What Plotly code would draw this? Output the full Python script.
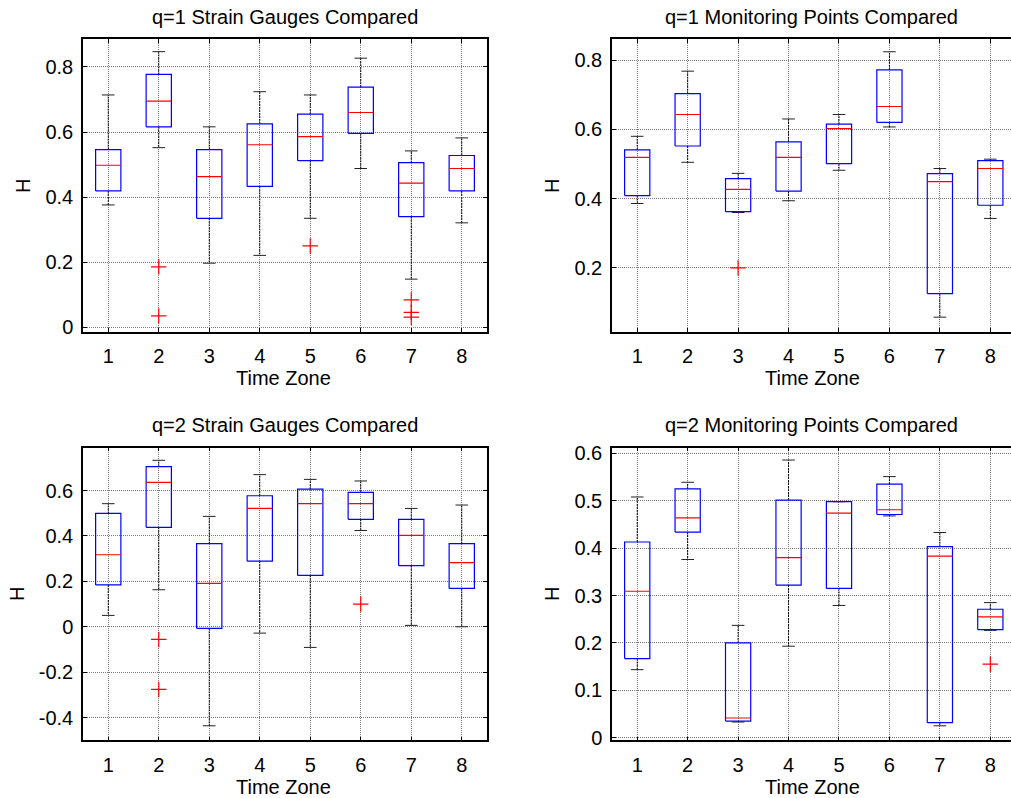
import plotly.graph_objects as go

W, H = 1011, 798

categories = [1, 2, 3, 4, 5, 6, 7, 8]
x_tick_text = ["1", "2", "3", "4", "5", "6", "7", "8"]

# q=1 Strain Gauges
sg1_lw = [0.376, 0.552, 0.197, 0.221, 0.335, 0.488, 0.148, 0.321]
sg1_q1 = [0.419, 0.616, 0.335, 0.433, 0.512, 0.596, 0.340, 0.419]
sg1_med = [0.498, 0.695, 0.463, 0.561, 0.586, 0.660, 0.443, 0.488]
sg1_q3 = [0.546, 0.777, 0.546, 0.625, 0.655, 0.738, 0.506, 0.528]
sg1_uw = [0.714, 0.847, 0.616, 0.724, 0.714, 0.827, 0.542, 0.582]
sg1_out_x = [2, 2, 5, 7, 7, 7]
sg1_out_y = [0.186, 0.035, 0.250, 0.084, 0.046, 0.031]
sg1_yticks = [0, 0.2, 0.4, 0.6, 0.8]
sg1_yticktext = ["0", "0.2", "0.4", "0.6", "0.8"]

# q=1 Monitoring Points
mp1_lw = [0.386, 0.505, 0.360, 0.394, 0.482, 0.607, 0.058, 0.343]
mp1_q1 = [0.409, 0.552, 0.3625, 0.422, 0.501, 0.620, 0.126, 0.381]
mp1_med = [0.519, 0.643, 0.427, 0.519, 0.602, 0.666, 0.449, 0.487]
mp1_q3 = [0.541, 0.703, 0.458, 0.564, 0.615, 0.772, 0.472, 0.510]
mp1_uw = [0.580, 0.768, 0.473, 0.630, 0.643, 0.824, 0.487, 0.514]
mp1_out_x = [3]
mp1_out_y = [0.200]
mp1_yticks = [0.2, 0.4, 0.6, 0.8]
mp1_yticktext = ["0.2", "0.4", "0.6", "0.8"]

# q=2 Strain Gauges
sg2_lw = [0.050, 0.163, -0.436, -0.028, -0.091, 0.424, 0.006, 0.000]
sg2_q1 = [0.184, 0.438, -0.007, 0.289, 0.226, 0.473, 0.269, 0.169]
sg2_med = [0.317, 0.636, 0.191, 0.521, 0.542, 0.542, 0.402, 0.282]
sg2_q3 = [0.499, 0.705, 0.366, 0.577, 0.606, 0.592, 0.473, 0.366]
sg2_uw = [0.542, 0.733, 0.486, 0.670, 0.649, 0.642, 0.521, 0.536]
sg2_out_x = [2, 2, 6]
sg2_out_y = [-0.056, -0.276, 0.100]
sg2_yticks = [-0.4, -0.2, 0, 0.2, 0.4, 0.6]
sg2_yticktext = ["-0.4", "-0.2", "0", "0.2", "0.4", "0.6"]

# q=2 Monitoring Points
mp2_lw = [0.1435, 0.376, 0.033, 0.193, 0.279, 0.468, 0.025, 0.2265]
mp2_q1 = [0.167, 0.434, 0.035, 0.322, 0.315, 0.471, 0.0317, 0.228]
mp2_med = [0.309, 0.464, 0.0415, 0.380, 0.474, 0.481, 0.383, 0.255]
mp2_q3 = [0.413, 0.525, 0.200, 0.5015, 0.498, 0.535, 0.403, 0.271]
mp2_uw = [0.508, 0.539, 0.237, 0.586, 0.498, 0.551, 0.433, 0.285]
mp2_out_x = [8]
mp2_out_y = [0.155]
mp2_yticks = [0, 0.1, 0.2, 0.3, 0.4, 0.5, 0.6]
mp2_yticktext = ["0", "0.1", "0.2", "0.3", "0.4", "0.5", "0.6"]

titles = ["q=1 Strain Gauges Compared", "q=1 Monitoring Points Compared",
          "q=2 Strain Gauges Compared", "q=2 Monitoring Points Compared"]
x_label = "Time Zone"
y_label = "H"

FONT = "Liberation Sans, Arial, sans-serif"
BOX_HALF = 0.25
CAP_HALF = 0.125

panels = [
    dict(lw=sg1_lw, q1=sg1_q1, med=sg1_med, q3=sg1_q3, uw=sg1_uw,
         ox=sg1_out_x, oy=sg1_out_y, yt=sg1_yticks, ytt=sg1_yticktext,
         yr=[-0.0135, 0.885], xr=[0.5, 8.5],
         xd=[83 / W, 487 / W], yd=[1 - 331.7 / H, 1 - 39.3 / H], right=False),
    dict(lw=mp1_lw, q1=mp1_q1, med=mp1_med, q3=mp1_q3, uw=mp1_uw,
         ox=mp1_out_x, oy=mp1_out_y, yt=mp1_yticks, ytt=mp1_yticktext,
         yr=[0.016, 0.86], xr=[0.5, 8.41],
         xd=[612 / W, 1.0], yd=[1 - 331.7 / H, 1 - 39.3 / H], right=True),
    dict(lw=sg2_lw, q1=sg2_q1, med=sg2_med, q3=sg2_q3, uw=sg2_uw,
         ox=sg2_out_x, oy=sg2_out_y, yt=sg2_yticks, ytt=sg2_yticktext,
         yr=[-0.50, 0.7885], xr=[0.5, 8.5],
         xd=[83 / W, 487 / W], yd=[1 - 740.3 / H, 1 - 447.7 / H], right=False),
    dict(lw=mp2_lw, q1=mp2_q1, med=mp2_med, q3=mp2_q3, uw=mp2_uw,
         ox=mp2_out_x, oy=mp2_out_y, yt=mp2_yticks, ytt=mp2_yticktext,
         yr=[-0.0056, 0.612], xr=[0.5, 8.41],
         xd=[612 / W, 1.0], yd=[1 - 740.3 / H, 1 - 447.7 / H], right=True),
]

fig = go.Figure()
layout_axes = {}
annotations = []

title_y_px = [17, 17, 425, 425]
title_x_px = [285, 811.7, 285, 811.7]
xlab_y_px = [378, 378, 786.5, 786.5]
xlab_x_px = [283, 812.5, 283, 812.5]
ylab_x_px = [23, 552, 17, 552]
ylab_y_px = [186, 186, 594, 594]

for k, p in enumerate(panels):
    n = k + 1
    xa = "x" if n == 1 else f"x{n}"
    ya = "y" if n == 1 else f"y{n}"

    wx, wy, cx, cy, bx, by, mx, my = [], [], [], [], [], [], [], []
    for i, c in enumerate(categories):
        wx += [c, c, None, c, c, None]
        wy += [p["q3"][i], p["uw"][i], None, p["q1"][i], p["lw"][i], None]
        cx += [c - CAP_HALF, c + CAP_HALF, None, c - CAP_HALF, c + CAP_HALF, None]
        cy += [p["uw"][i], p["uw"][i], None, p["lw"][i], p["lw"][i], None]
        bx += [c - BOX_HALF, c + BOX_HALF, c + BOX_HALF, c - BOX_HALF, c - BOX_HALF, None]
        by += [p["q1"][i], p["q1"][i], p["q3"][i], p["q3"][i], p["q1"][i], None]
        mx += [c - BOX_HALF, c + BOX_HALF, None]
        my += [p["med"][i], p["med"][i], None]

    fig.add_trace(go.Scatter(x=wx, y=wy, mode="lines", xaxis=xa, yaxis=ya,
                             line=dict(color="black", width=1, dash="2px,1px"),
                             hoverinfo="skip", showlegend=False))
    fig.add_trace(go.Scatter(x=cx, y=cy, mode="lines", xaxis=xa, yaxis=ya,
                             line=dict(color="#222222", width=1),
                             hoverinfo="skip", showlegend=False))
    fig.add_trace(go.Scatter(x=bx, y=by, mode="lines", xaxis=xa, yaxis=ya,
                             line=dict(color="#0000FF", width=1.2),
                             hoverinfo="skip", showlegend=False))
    fig.add_trace(go.Scatter(x=mx, y=my, mode="lines", xaxis=xa, yaxis=ya,
                             line=dict(color="#FF0000", width=1.2),
                             hoverinfo="skip", showlegend=False))
    fig.add_trace(go.Scatter(x=p["ox"], y=p["oy"], mode="markers", xaxis=xa, yaxis=ya,
                             marker=dict(symbol="cross-thin-open", size=11, color="#FF0000",
                                         line=dict(color="#FF0000", width=1.2)),
                             showlegend=False))

    axis_common = dict(showline=True, linecolor="black", linewidth=1.5,
                       ticks="inside", ticklen=4, tickcolor="black", tickwidth=1,
                       showgrid=True, gridcolor="#7a7a7a", griddash="1px,1px", gridwidth=1,
                       zeroline=False, tickfont=dict(family=FONT, size=20, color="black"),
                       automargin=False)
    xname = "xaxis" if n == 1 else f"xaxis{n}"
    yname = "yaxis" if n == 1 else f"yaxis{n}"
    layout_axes[xname] = dict(axis_common, domain=p["xd"], range=p["xr"], anchor=ya,
                              tickmode="array", tickvals=categories, ticktext=x_tick_text,
                              mirror="ticks", ticklabelstandoff=6)
    layout_axes[yname] = dict(axis_common, domain=p["yd"], range=p["yr"], anchor=xa,
                              tickmode="array", tickvals=p["yt"], ticktext=p["ytt"],
                              mirror=False if p["right"] else "ticks",
                              ticklabelstandoff=4)

    annotations.append(dict(text=titles[k], x=title_x_px[k] / W, y=1 - title_y_px[k] / H,
                            xref="paper", yref="paper", showarrow=False,
                            xanchor="center", yanchor="middle",
                            font=dict(family=FONT, size=20, color="black")))
    annotations.append(dict(text=x_label, x=xlab_x_px[k] / W, y=1 - xlab_y_px[k] / H,
                            xref="paper", yref="paper", showarrow=False,
                            xanchor="center", yanchor="middle",
                            font=dict(family=FONT, size=20, color="black")))
    annotations.append(dict(text=y_label, x=ylab_x_px[k] / W, y=1 - ylab_y_px[k] / H,
                            xref="paper", yref="paper", showarrow=False, textangle=-90,
                            xanchor="center", yanchor="middle",
                            font=dict(family=FONT, size=20, color="black")))

fig.update_layout(width=W, height=H, margin=dict(l=0, r=0, t=0, b=0),
                  paper_bgcolor="white", plot_bgcolor="white",
                  annotations=annotations, showlegend=False, **layout_axes)

fig.write_html("out.html")
